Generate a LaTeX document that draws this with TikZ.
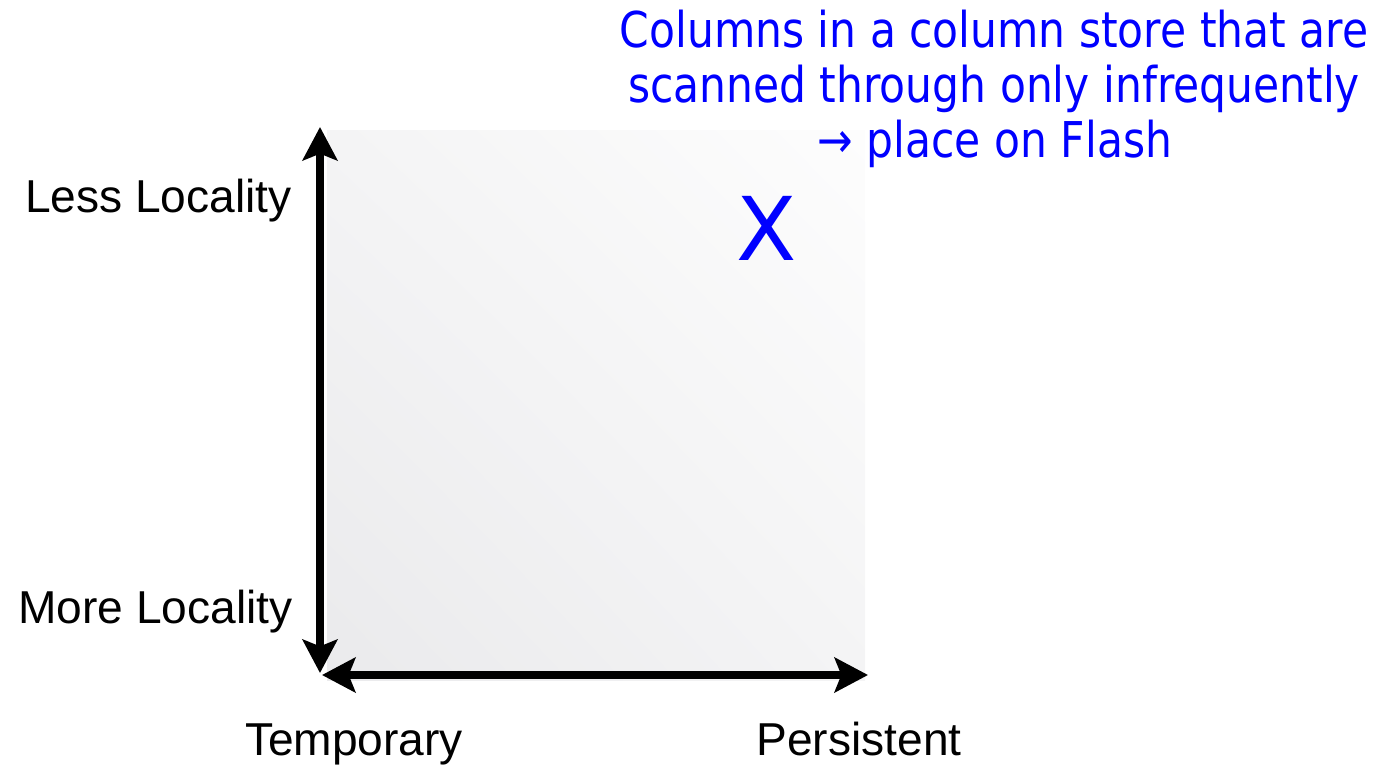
\documentclass[tikz,border=0pt]{standalone}
\usepackage{fontspec}
\setmainfont{Liberation Sans}
\newfontfamily\bluefont{DejaVu Sans}
\usetikzlibrary{arrows.meta,shadings}
\definecolor{boxlow}{HTML}{EAEAEC}
\definecolor{boxhigh}{HTML}{FDFDFD}
\definecolor{boxmid}{HTML}{F4F4F5}
\definecolor{noteblue}{HTML}{0000FF}
\tikzset{
  axis/.style={line width=6pt, -{Stealth[length=25pt,width=26pt,inset=5pt]}},
  axislabel/.style={font=\fontsize{34.6pt}{40pt}\selectfont, inner sep=0pt},
  note/.style={font=\bluefont\fontsize{37pt}{43pt}\selectfont, text=noteblue, inner sep=0pt, anchor=base},
}
\begin{document}
\begin{tikzpicture}[x=0.75pt,y=-0.75pt]
\useasboundingbox (0,0) rectangle (1381,764);
\shade[lower left=boxlow, upper right=boxhigh, upper left=boxmid, lower right=boxmid] (327,680) rectangle (865,130);
\coordinate (vt) at (320,127);
\coordinate (vb) at (320,673);
\coordinate (hl) at (322,675);
\coordinate (hr) at (868,675);
\coordinate (vmid) at (320,400);
\coordinate (hmid) at (595,675);
\draw[axis] (vmid) -- (vt);
\draw[axis] (vmid) -- (vb);
\draw[axis] (hmid) -- (hl);
\draw[axis] (hmid) -- (hr);
\node[axislabel, anchor=base east] (less) at (292,212) {Less Locality};
\node[axislabel, anchor=base east] (more) at (293,623) {More Locality};
\node[axislabel, anchor=base] (temp) at (354,755) {Temporary};
\node[axislabel, anchor=base] (pers) at (859,755) {Persistent};
\node[note, font=\bluefont\fontsize{66pt}{70pt}\selectfont] (x) at (767,260) {X};
\node[note] (n1) at (994,47) {\scalebox{0.86}[1]{Columns in a column store that are}};
\node[note] (n2) at (994,102) {\scalebox{0.86}[1]{scanned through only infrequently}};
\node[note] (n3) at (995,157) {\scalebox{0.86}[1]{→ place on Flash}};
\end{tikzpicture}
\end{document}
